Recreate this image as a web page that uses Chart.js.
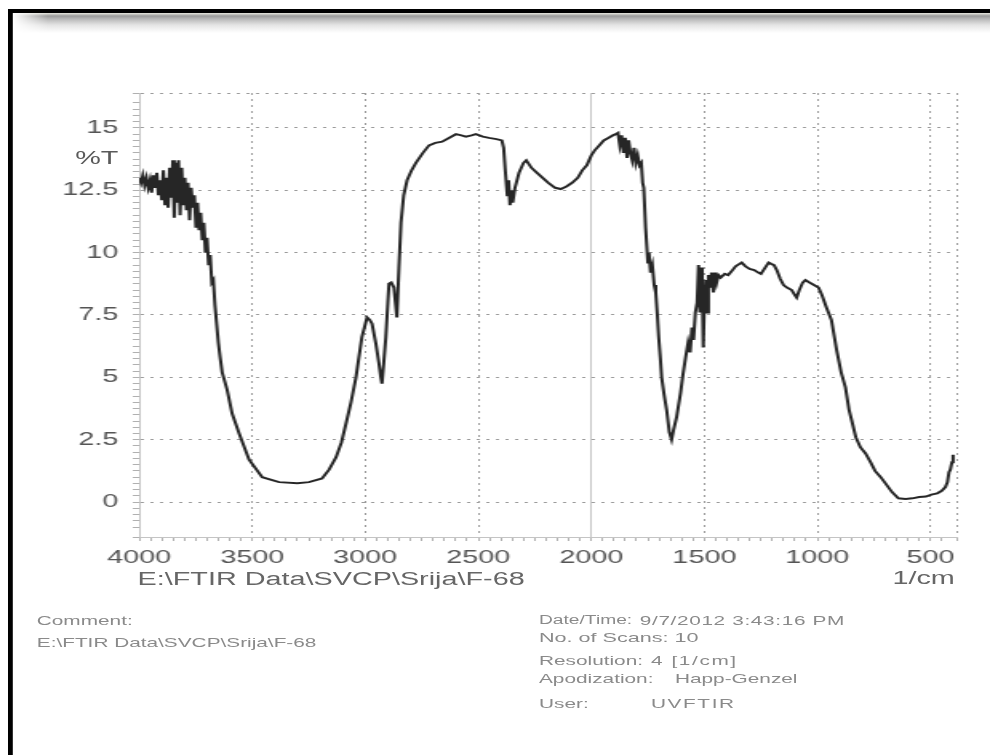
<!DOCTYPE html>
<html>
<head>
<meta charset="utf-8">
<title>FTIR F-68</title>
<script src="https://cdn.jsdelivr.net/npm/chart.js@4.4.1/dist/chart.umd.min.js"></script>
<style>
    html, body { margin: 0; padding: 0; background: #fff; overflow: hidden; width: 990px; height: 755px; }
    /* the scanned report is stretched sideways, so the whole page is drawn narrow and widened */
    #page { position: absolute; left: 0; top: 0; width: 619px; height: 755px;
            transform: scaleX(1.5994); transform-origin: 0 0;
            font-family: "Liberation Sans", Arial, sans-serif; }
    #chart { position: absolute; left: 0; top: 0; }
    .frame-top { position: absolute; left: 5px; top: 9px; width: 614px; height: 4px; background: #000; }
    .frame-left { position: absolute; left: 5px; top: 9px; width: 2.7px; height: 746px; background: #000; }
    .frame-shade { position: absolute; left: 7.7px; top: 13px; width: 612px; height: 20px;
            background: linear-gradient(to bottom, #e8e8e0 0px, #9a9a9a 3px, #b8b8b8 6px, #e4e4e4 12px, #fff 20px);
            -webkit-mask-image: linear-gradient(to right, transparent 0px, #000 22px);
            mask-image: linear-gradient(to right, transparent 0px, #000 22px); }
    .lbl { position: absolute; white-space: nowrap; color: #5a5a5a; font-size: 18px; line-height: 18px; }
    .small { position: absolute; white-space: nowrap; color: #8a8a8a; font-size: 13px; line-height: 13px; }
</style>
</head>
<body>
<div id="page">
    <div class="frame-top"></div>
    <div class="frame-left"></div>
    <div class="frame-shade"></div>

    <canvas id="chart" width="619" height="755"></canvas>

    <div class="lbl" style="left:0; width:74px; text-align:right; top:149px;">%T</div>
    <div class="lbl" style="left:86px; top:570px; color:#666;">E:\FTIR Data\SVCP\Srija\F-68</div>
    <div class="lbl" style="left:500px; width:97px; text-align:right; top:569px; color:#666;">1/cm</div>

    <div class="small" style="left:23px; top:614px;">Comment:</div>
    <div class="small" style="left:23px; top:636px;">E:\FTIR Data\SVCP\Srija\F-68</div>

    <div class="small" style="left:337px; top:614px; font-size:12px;">Date/Time:</div>
    <div class="small" style="left:400px; top:614px; letter-spacing:0.4px;">9/7/2012 3:43:16 PM</div>
    <div class="small" style="left:337px; top:631px; font-size:13.5px;">No. of Scans: 10</div>
    <div class="small" style="left:337px; top:654px;">Resolution:</div>
    <div class="small" style="left:407px; top:654px; letter-spacing:1px;">4 [1/cm]</div>
    <div class="small" style="left:337px; top:672px;">Apodization:</div>
    <div class="small" style="left:422px; top:672px;">Happ-Genzel</div>
    <div class="small" style="left:337px; top:697px;">User:</div>
    <div class="small" style="left:407px; top:697px; letter-spacing:1px;">UVFTIR</div>
</div>

<script>
// Spectrum (wavenumber in 1/cm, transmittance in %T)
const wavenumbers = [
    4000, 3992, 3984, 3976, 3968, 3960, 3952, 3945, 3938, 3930,
    3922, 3915, 3908, 3900, 3893, 3886, 3879, 3872, 3865, 3858,
    3851, 3845, 3839, 3832, 3826, 3819, 3812, 3805, 3798, 3791,
    3784, 3777, 3770, 3763, 3756, 3749, 3742, 3735, 3728, 3721,
    3714, 3707, 3700, 3693, 3686, 3679, 3672, 3665, 3658, 3650,
    3642, 3633, 3611, 3589, 3558, 3514, 3456, 3381, 3300, 3249,
    3191, 3160, 3129, 3105, 3085, 3063, 3041, 3015, 2992, 2980,
    2970, 2953, 2940, 2931, 2926, 2918, 2909, 2900, 2895, 2885,
    2873, 2860, 2851, 2842, 2830, 2815, 2795, 2776, 2745, 2718,
    2690, 2660, 2630, 2599, 2575, 2555, 2530, 2511, 2480, 2453,
    2420, 2396, 2388, 2380, 2372, 2366, 2360, 2354, 2348, 2338,
    2320, 2300, 2288, 2265, 2240, 2215, 2190, 2160, 2135, 2110,
    2085, 2060, 2040, 2020, 2000, 1985, 1965, 1945, 1925, 1905,
    1892, 1882, 1874, 1866, 1858, 1850, 1842, 1835, 1827, 1819,
    1811, 1803, 1795, 1787, 1779, 1773, 1768, 1760, 1750, 1745,
    1738, 1730, 1722, 1715, 1708, 1702, 1695, 1689, 1678, 1667,
    1655, 1645, 1636, 1623, 1605, 1595, 1583, 1572, 1563, 1555,
    1548, 1540, 1532, 1526, 1520, 1515, 1510, 1505, 1500, 1494,
    1488, 1482, 1475, 1468, 1460, 1453, 1446, 1438, 1428, 1410,
    1395, 1380, 1362, 1345, 1335, 1318, 1300, 1280, 1262, 1250,
    1235, 1216, 1205, 1192, 1180, 1165, 1150, 1135, 1114, 1100,
    1092, 1080, 1065, 1053, 1035, 1015, 995, 980, 960, 938,
    915, 895, 876, 860, 849, 830, 810, 787, 765, 745,
    720, 699, 670, 642, 610, 580, 550, 520, 496, 470,
    450, 434, 425, 418, 412, 405, 400
];
const transmittance = [
    13.0, 12.8, 13.1, 12.7, 13.0, 12.6, 12.9, 12.4, 13.1, 12.6,
    13.2, 12.3, 12.9, 12.1, 13.3, 11.9, 13.0, 11.8, 13.4, 12.2,
    13.7, 11.4, 13.6, 12.0, 13.7, 11.5, 13.4, 11.9, 13.0, 11.7,
    12.8, 11.3, 12.6, 11.8, 12.3, 11.0, 12.0, 10.9, 11.6, 10.5,
    11.2, 10.0, 10.6, 9.5, 9.9, 8.8, 8.9, 7.9, 7.2, 6.4,
    5.8, 5.2, 4.5, 3.55, 2.75, 1.7, 1.0, 0.8, 0.76, 0.8,
    0.95, 1.3, 1.8, 2.4, 3.15, 4.0, 5.0, 6.6, 7.4, 7.3,
    7.15, 6.35, 5.6, 5.0, 4.75, 5.6, 6.6, 8.0, 8.75, 8.8,
    8.6, 7.4, 9.4, 11.2, 12.3, 12.9, 13.3, 13.6, 14.0, 14.3,
    14.4, 14.45, 14.6, 14.75, 14.7, 14.65, 14.7, 14.75, 14.65, 14.6,
    14.55, 14.5, 14.2, 13.2, 12.3, 12.9, 11.9, 12.5, 12.0, 12.6,
    13.2, 13.6, 13.7, 13.4, 13.2, 13.0, 12.8, 12.6, 12.55, 12.65,
    12.8, 13.0, 13.3, 13.5, 13.9, 14.1, 14.3, 14.5, 14.6, 14.7,
    14.75, 14.8, 14.3, 14.7, 14.0, 14.6, 13.8, 14.5, 14.0, 13.7,
    14.2, 13.6, 13.9, 13.5, 13.6, 12.8, 12.6, 11.0, 9.6, 10.0,
    9.2, 9.5, 8.7, 8.4, 7.5, 6.6, 5.8, 5.0, 4.3, 3.7,
    2.8, 2.5, 2.9, 3.4, 4.4, 5.1, 5.8, 6.4, 6.0, 7.0,
    6.5, 7.6, 8.0, 9.5, 7.6, 9.4, 8.8, 6.2, 8.0, 8.9,
    7.6, 9.1, 8.6, 9.2, 8.4, 9.2, 8.8, 9.1, 9.0, 9.15,
    9.1, 9.25, 9.45, 9.55, 9.6, 9.45, 9.35, 9.3, 9.2, 9.15,
    9.35, 9.6, 9.55, 9.5, 9.3, 8.95, 8.7, 8.6, 8.5, 8.3,
    8.2, 8.5, 8.8, 8.9, 8.8, 8.7, 8.6, 8.3, 7.8, 7.3,
    6.1, 5.2, 4.6, 3.7, 3.3, 2.6, 2.2, 1.95, 1.6, 1.25,
    1.0, 0.75, 0.4, 0.15, 0.12, 0.15, 0.2, 0.22, 0.3, 0.35,
    0.45, 0.6, 0.8, 1.2, 1.3, 1.6, 1.9
];

// Axis labels printed on the report
const xTickLabels = [4000, 3500, 3000, 2500, 2000, 1500, 1000, 500];
const yTickLabels = [0, 2.5, 5, 7.5, 10, 12.5, 15];

const X_MIN = 385;
const X_MAX = 4000;
const Y_MIN = -1.4;
const Y_MAX = 16.4;

function isMajor(list, v) {
    return list.some(t => Math.abs(t - v) < 1e-6);
}

const points = wavenumbers.map((w, i) => ({ x: w, y: transmittance[i] }));

const tickFont = { family: '"Liberation Sans", Arial, sans-serif', size: 18 };

// x grid: dotted at every 500, the 2000 line is a faint solid one
function xGridColor(ctx) {
    if (!ctx.tick) return 'rgba(0,0,0,0)';
    const v = ctx.tick.value;
    if (v === 2000) return '#c6c6c6';
    if (isMajor(xTickLabels, v) || v === X_MIN) return '#9c9c9c';
    return 'rgba(0,0,0,0)';
}

new Chart(document.getElementById('chart'), {
    type: 'line',
    data: {
        datasets: [{
            data: points,
            borderColor: '#262626',
            borderWidth: 2,
            pointRadius: 0,
            tension: 0,
            fill: false
        }]
    },
    options: {
        responsive: false,
        devicePixelRatio: 1,
        animation: false,
        layout: { padding: { left: 0, right: 21, top: 93, bottom: 0 } },
        plugins: {
            legend: { display: false },
            tooltip: { enabled: false },
            title: { display: false }
        },
        scales: {
            x: {
                type: 'linear',
                reverse: true,
                min: X_MIN,
                max: X_MAX,
                afterFit: scale => { scale.height = 218; },
                ticks: {
                    stepSize: 50,
                    autoSkip: false,
                    maxRotation: 0,
                    maxTicksLimit: 200,
                    padding: 6,
                    color: '#555',
                    font: tickFont,
                    callback: v => isMajor(xTickLabels, v) ? String(v) : ''
                },
                grid: {
                    color: xGridColor,
                    tickColor: '#b0b0b0',
                    tickLength: 4,
                    lineWidth: 1
                },
                border: {
                    display: true,
                    color: '#c4c4c4',
                    dash: ctx => (ctx.tick && ctx.tick.value === 2000) ? [] : [2, 4]
                }
            },
            y: {
                min: Y_MIN,
                max: Y_MAX,
                afterFit: scale => { scale.width = 87; },
                ticks: {
                    stepSize: 0.25,
                    autoSkip: false,
                    maxTicksLimit: 200,
                    padding: 9,
                    color: '#555',
                    font: tickFont,
                    callback: v => isMajor(yTickLabels, v) ? String(v) : ''
                },
                grid: {
                    color: ctx => (ctx.tick && (isMajor(yTickLabels, ctx.tick.value) || ctx.tick.value === Y_MAX)) ? '#9c9c9c' : 'rgba(0,0,0,0)',
                    tickColor: '#b0b0b0',
                    tickLength: 4,
                    lineWidth: 1
                },
                border: {
                    display: true,
                    color: '#c4c4c4',
                    dash: [2, 4]
                }
            }
        }
    }
});
</script>
</body>
</html>
